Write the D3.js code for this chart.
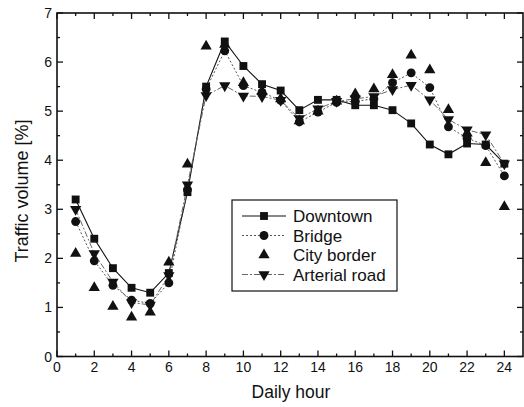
<!DOCTYPE html>
<html><head><meta charset="utf-8">
<script src="https://cdn.jsdelivr.net/npm/d3@7"></script>
<style>body{margin:0;background:#fff}svg{display:block}text{font-family:"Liberation Sans",Arial,sans-serif;fill:#111}</style>
</head><body>
<script>
const hours = [1,2,3,4,5,6,7,8,9,10,11,12,13,14,15,16,17,18,19,20,21,22,23,24];
const downtown = [3.2,2.4,1.8,1.4,1.3,1.7,3.35,5.5,6.42,5.92,5.55,5.42,5.02,5.23,5.23,5.12,5.12,5.02,4.75,4.32,4.12,4.34,4.32,3.93];
const bridge = [2.75,1.95,1.45,1.15,1.08,1.5,3.4,5.45,6.23,5.52,5.38,5.22,4.78,4.98,5.18,5.2,5.25,5.58,5.78,5.48,4.68,4.45,4.3,3.68];
const cityBorder = [2.1,1.4,1.02,0.8,0.9,1.92,3.92,6.32,6.36,5.58,5.4,5.25,4.8,5.0,5.2,5.35,5.45,5.74,6.14,5.84,5.03,4.55,3.95,3.05];
const arterial = [3.0,2.1,1.52,1.1,1.05,1.65,3.5,5.32,5.52,5.31,5.3,5.22,4.85,5.05,5.2,5.25,5.3,5.44,5.53,5.23,4.83,4.62,4.52,3.93];
const seriesNames = ["Downtown","Bridge","City border","Arterial road"];
const xTicks = [0,2,4,6,8,10,12,14,16,18,20,22,24];
const yTicks = [0,1,2,3,4,5,6,7];

const W=524,H=407;
const svg=d3.select("body").append("svg").attr("width",W).attr("height",H);
const x=d3.scaleLinear().domain([0,25]).range([57,523]);
const y=d3.scaleLinear().domain([0,7]).range([356.5,13]);

const series=[
 {name:seriesNames[0],vals:downtown,sym:d3.symbolSquare,size:62,line:true,dash:null,stroke:"#111",sw:1.1},
 {name:seriesNames[1],vals:bridge,sym:d3.symbolCircle,size:62,line:true,dash:"2,2",stroke:"#555",sw:1},
 {name:seriesNames[2],vals:cityBorder,sym:d3.symbolTriangle,size:55,line:false},
 {name:seriesNames[3],vals:arterial,sym:d3.symbolTriangle,size:55,line:true,dash:"6,2,2,2",stroke:"#666",sw:1,flip:true}
];

const lineGen=d3.line().x(d=>x(d[0])).y(d=>y(d[1]));
series.forEach(s=>{
  if(!s.line) return;
  svg.append("path").datum(hours.map((h,i)=>[h,s.vals[i]])).attr("d",lineGen)
    .attr("fill","none").attr("stroke",s.stroke).attr("stroke-width",s.sw)
    .attr("stroke-dasharray",s.dash);
});
[...series].reverse().forEach(s=>{
  svg.append("g").selectAll("path").data(hours.map((h,i)=>[h,s.vals[i]])).join("path")
    .attr("d",d3.symbol().type(s.sym).size(s.size))
    .attr("transform",d=>`translate(${x(d[0])},${y(d[1])})${s.flip?" rotate(180)":""}`)
    .attr("fill","#111");
});

const g=svg.append("g");
g.append("rect").attr("x",x(0)).attr("y",y(7)).attr("width",x(25)-x(0)).attr("height",y(0)-y(7))
 .attr("fill","none").attr("stroke","#111").attr("stroke-width",1.6);
const xMinor=d3.range(1,25,2);
const yMinor=d3.range(0.5,7,1);
function tickLines(vals,len,isX){
  vals.forEach(v=>{
    if(isX){
      g.append("line").attr("x1",x(v)).attr("x2",x(v)).attr("y1",y(0)).attr("y2",y(0)-len).attr("stroke","#111").attr("stroke-width",1.3);
      g.append("line").attr("x1",x(v)).attr("x2",x(v)).attr("y1",y(7)).attr("y2",y(7)+len).attr("stroke","#111").attr("stroke-width",1.3);
    } else {
      g.append("line").attr("y1",y(v)).attr("y2",y(v)).attr("x1",x(0)).attr("x2",x(0)+len).attr("stroke","#111").attr("stroke-width",1.3);
      g.append("line").attr("y1",y(v)).attr("y2",y(v)).attr("x1",x(25)).attr("x2",x(25)-len).attr("stroke","#111").attr("stroke-width",1.3);
    }
  });
}
tickLines(xTicks,6,true); tickLines(xMinor,3,true);
tickLines(yTicks,6,false); tickLines(yMinor,3,false);

g.selectAll(".xl").data(xTicks).join("text").attr("x",d=>x(d)).attr("y",y(0)+15)
 .attr("text-anchor","middle").attr("font-size",14).text(d=>d);
g.selectAll(".yl").data(yTicks).join("text").attr("x",x(0)-5).attr("y",d=>y(d)+5)
 .attr("text-anchor","end").attr("font-size",14).text(d=>d);

svg.append("text").attr("x",291).attr("y",398).attr("text-anchor","middle").attr("font-size",17.5).text("Daily hour");
svg.append("text").attr("transform","translate(28,191) rotate(-90)").attr("text-anchor","middle").attr("font-size",18).text("Traffic volume [%]");

const lg=svg.append("g");
lg.append("rect").attr("x",232).attr("y",200).attr("width",165).attr("height",91)
 .attr("fill","#fff").attr("stroke","#111").attr("stroke-width",1.2);
series.forEach((s,i)=>{
  const cy=216+i*19.5;
  if(s.line) lg.append("line").attr("x1",242).attr("x2",286).attr("y1",cy).attr("y2",cy)
     .attr("stroke",s.stroke).attr("stroke-width",s.sw).attr("stroke-dasharray",s.dash);
  lg.append("path").attr("d",d3.symbol().type(s.sym).size(s.size)())
    .attr("transform",`translate(264,${cy})${s.flip?" rotate(180)":""}`).attr("fill","#111");
  lg.append("text").attr("x",293).attr("y",cy+6).attr("font-size",17).text(s.name);
});
</script>
</body></html>
